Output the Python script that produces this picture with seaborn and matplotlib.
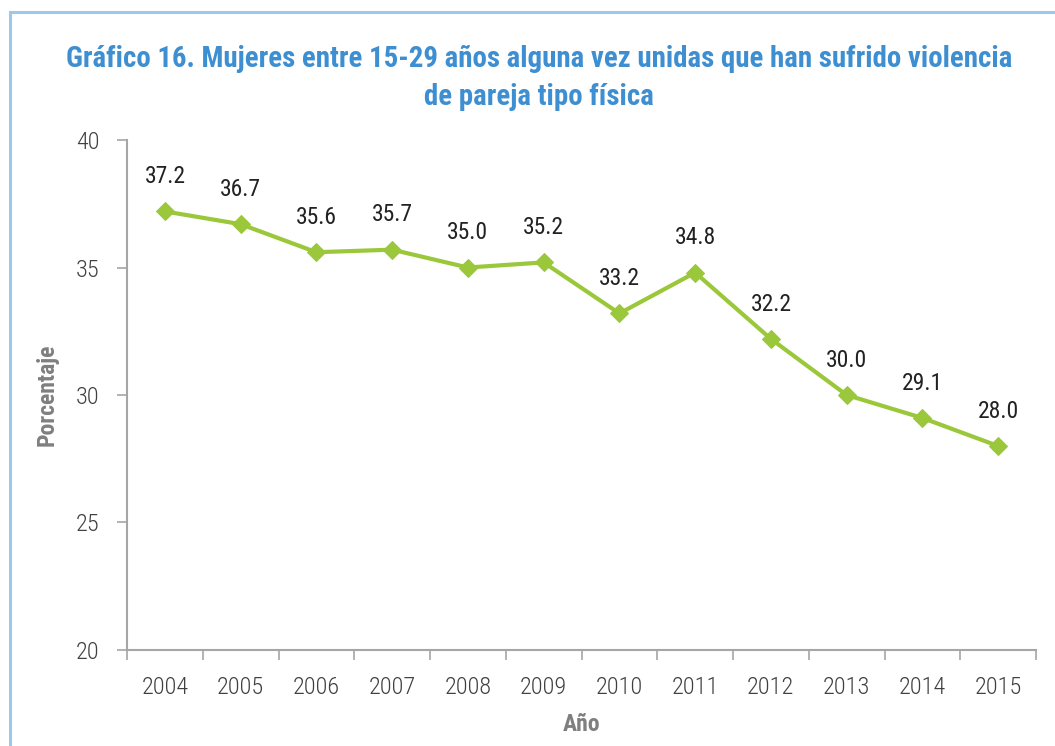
import matplotlib
matplotlib.use("Agg")
import matplotlib.pyplot as plt
import seaborn as sns
import pandas as pd
from matplotlib.patches import Rectangle

years = ["2004", "2005", "2006", "2007", "2008", "2009", "2010", "2011", "2012", "2013", "2014", "2015"]
values = [37.2, 36.7, 35.6, 35.7, 35.0, 35.2, 33.2, 34.8, 32.2, 30.0, 29.1, 28.0]
yticks = [20, 25, 30, 35, 40]

title = "Gráfico 16. Mujeres entre 15-29 años alguna vez unidas que han sufrido violencia\nde pareja tipo física"

sns.set_theme(style="white")
plt.rcParams['font.family'] = ['Roboto Condensed', 'Roboto', 'DejaVu Sans']

df = pd.DataFrame({"Año": years, "Porcentaje": values})

fig = plt.figure(figsize=(10.55, 7.46), dpi=100)
ax = fig.add_axes([0.1204, 0.1287, 0.8616, 0.6836])

green = "#9BC83A"
sns.lineplot(data=df, x="Año", y="Porcentaje", ax=ax, color=green, linewidth=3,
             marker="D", markersize=9, markeredgecolor=green, sort=False)

for i, v in enumerate(values):
    ax.annotate(f"{v:.1f}", (i, v), xytext=(0, 25), textcoords="offset points",
                ha="center", va="center", fontsize=17, color="#222222")

ax.set_ylim(20, 40)
ax.set_yticks(yticks)
ax.set_xlim(-0.5, len(years) - 0.5)
ax.set_xticks(range(len(years)))
ax.set_xticklabels(years)
ax.set_xticks([i - 0.5 for i in range(len(years) + 1)], minor=True)

for s in ["top", "right"]:
    ax.spines[s].set_visible(False)
for s in ["left", "bottom"]:
    ax.spines[s].set_color("#A6A6A6")
    ax.spines[s].set_linewidth(1.5)

ax.tick_params(axis="y", which="major", left=True, length=7, width=1.2, color="#A6A6A6",
               labelsize=17.5, labelcolor="#404040", pad=13)
ax.tick_params(axis="x", which="major", bottom=False, labelsize=17.5, labelcolor="#404040", pad=13)
ax.tick_params(axis="x", which="minor", bottom=True, length=7, width=1.2, color="#A6A6A6", direction="out")
for lab in ax.get_xticklabels() + ax.get_yticklabels():
    lab.set_fontweight("light")

ax.set_xlabel("Año", fontsize=17, fontweight="bold", color="#7F7F7F", labelpad=10)
ax.set_ylabel("Porcentaje", fontsize=17, fontweight="bold", color="#7F7F7F", labelpad=12)

fig.text(0.511, 0.895, title, ha="center", va="center", fontsize=20.8, fontweight="bold",
         color="#3D8FD1", linespacing=1.45)

border = Rectangle((10 / 1055, -0.1), 1.2, 1 - 12 / 746 + 0.1, transform=fig.transFigure,
                   fill=False, edgecolor="#9CC8EE", linewidth=2.2)
fig.patches.append(border)

fig.savefig("out.png", dpi=100)
